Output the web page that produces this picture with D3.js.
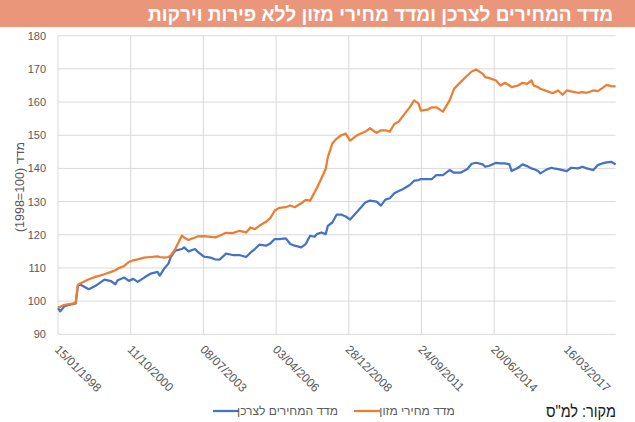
<!DOCTYPE html>
<html>
<head>
<meta charset="utf-8">
<script src="https://cdn.jsdelivr.net/npm/d3@7"></script>
<style>
  body { margin: 0; background: #fff; }
  svg { display: block; font-family: "Liberation Sans", Arial, sans-serif; }
</style>
</head>
<body>
<div id="chart"></div>
<script>
// Monthly samples (YYYY-MM)
const months = [
  "1998-01","1998-02","1998-04","1998-07","1998-09","1998-10","1998-11","1999-03","1999-06","1999-10",
  "2000-01","2000-03","2000-04","2000-07","2000-09","2000-11","2001-01","2001-04","2001-07","2001-10",
  "2001-11","2002-01","2002-03","2002-04","2002-06","2002-09","2002-10","2002-12","2003-03","2003-04",
  "2003-07","2003-10","2003-12","2004-02","2004-05","2004-08","2004-11","2005-02","2005-04","2005-06",
  "2005-08","2005-11","2006-01","2006-03","2006-05","2006-08","2006-10","2006-12","2007-03","2007-05",
  "2007-07","2007-09","2007-10","2007-12","2008-02","2008-03","2008-05","2008-07","2008-09","2008-11",
  "2009-01","2009-04","2009-08","2009-10","2010-01","2010-03","2010-05","2010-07","2010-09","2010-11",
  "2011-01","2011-04","2011-06","2011-08","2011-09","2011-12","2012-02","2012-04","2012-07","2012-10",
  "2012-12","2013-03","2013-06","2013-08","2013-10","2014-01","2014-02","2014-04","2014-07","2014-09",
  "2014-11","2015-01","2015-02","2015-05","2015-07","2015-09","2015-11","2015-12","2016-02","2016-03",
  "2016-06","2016-08","2016-09","2016-11","2017-01","2017-03","2017-05","2017-08","2017-10","2017-12",
  "2018-03","2018-05","2018-07","2018-09","2018-11","2019-01"
];

// מדד המחירים לצרכן
const cpi = [
  97.9, 96.9, 98.5, 99.0, 99.3, 104.7, 105.0, 103.6, 104.6, 106.5,
  106.0, 105.1, 106.3, 107.1, 106.1, 106.7, 105.8, 107.1, 108.3, 108.8,
  107.7, 109.8, 111.3, 113.3, 115.2, 115.7, 116.2, 115.0, 115.7, 115.0,
  113.4, 113.1, 112.6, 112.5, 114.3, 113.9, 113.9, 113.3, 114.6, 115.7,
  117.0, 116.7, 117.4, 118.7, 118.7, 118.9, 117.2, 116.7, 116.2, 117.2,
  119.7, 119.4, 120.2, 120.7, 120.2, 122.7, 123.7, 126.1, 126.1, 125.5,
  124.6, 126.8, 129.8, 130.3, 130.0, 128.8, 130.6, 131.0, 132.5, 133.2,
  133.8, 135.0, 136.3, 136.5, 136.8, 136.8, 136.8, 138.0, 138.0, 139.5,
  138.7, 138.7, 139.8, 141.4, 141.7, 141.2, 140.5, 140.8, 141.7, 141.5,
  141.5, 141.2, 139.2, 140.2, 141.2, 140.7, 140.0, 139.8, 139.2, 138.5,
  139.7, 140.2, 140.0, 139.8, 139.5, 139.2, 140.2, 140.0, 140.5, 140.0,
  139.5, 141.0, 141.5, 141.8, 142.0, 141.2
];

// מדד מחירי מזון
const food = [
  98.2, 98.3, 98.9, 99.2, 99.4, 104.9, 105.3, 106.6, 107.3, 108.1,
  108.8, 109.3, 109.8, 110.6, 111.8, 112.3, 112.6, 113.1, 113.3, 113.5,
  113.3, 113.1, 113.3, 113.8, 115.7, 119.7, 119.2, 118.4, 119.2, 119.5,
  119.6, 119.4, 119.2, 119.7, 120.6, 120.5, 121.2, 120.7, 122.2, 121.7,
  122.7, 123.9, 125.1, 127.3, 128.1, 128.3, 128.8, 128.3, 129.5, 130.5,
  130.3, 132.8, 134.1, 136.9, 139.9, 143.4, 147.5, 149.0, 150.0, 150.5,
  148.4, 149.9, 151.1, 152.1, 150.7, 151.5, 151.5, 151.1, 153.4, 154.1,
  155.9, 158.4, 160.5, 159.5, 157.4, 157.7, 158.4, 158.4, 157.1, 160.5,
  164.0, 166.0, 168.0, 169.2, 169.8, 168.5, 167.5, 167.2, 166.5, 165.0,
  165.8, 165.0, 164.5, 165.0, 165.8, 165.5, 166.5, 165.0, 164.5, 164.0,
  163.3, 162.8, 162.8, 163.5, 162.2, 163.5, 163.2, 162.8, 163.0, 162.8,
  163.5, 163.3, 164.2, 165.2, 164.8, 164.7
];

const yTicks = [90, 100, 110, 120, 130, 140, 150, 160, 170, 180];
const seriesNames = ["מדד המחירים לצרכן", "מדד מחירי מזון"];
const seriesColors = ["#4472C4", "#ED7D31"];

const width = 635, height = 422;
const margin = { left: 58, right: 19.4, top: 35.7, bottom: 87.7 };

const parseMonth = d3.utcParse("%Y-%m");
const dates = months.map(m => d3.utcDay.offset(parseMonth(m), 14));

const svg = d3.select("#chart").append("svg")
    .attr("width", width)
    .attr("height", height);

// title bar
svg.append("rect")
    .attr("x", 0).attr("y", 0)
    .attr("width", width).attr("height", 27)
    .attr("fill", "#E9967B");

svg.append("text")
    .attr("x", 380.5).attr("y", 20.5)
    .attr("text-anchor", "middle")
    .attr("fill", "#fff")
    .attr("font-size", 20)
    .attr("font-weight", "bold")
    .attr("textLength", 465)
    .attr("lengthAdjust", "spacingAndGlyphs")
    .text("מדד המחירים לצרכן ומדד מחירי מזון ללא פירות וירקות");

const x = d3.scaleUtc()
    .domain([Date.UTC(1998, 0, 15), Date.UTC(2019, 0, 15)])
    .range([margin.left, width - margin.right]);

const y = d3.scaleLinear()
    .domain([90, 180])
    .range([height - margin.bottom, margin.top]);

// Excel-like date ticks every 1000 days
const xTicks = d3.range(0, 8).map(i => d3.utcDay.offset(new Date(Date.UTC(1998, 0, 15)), i * 1000));
const fmt = d3.utcFormat("%d/%m/%Y");

// gridlines
svg.append("g")
    .selectAll("line")
    .data(yTicks)
    .join("line")
    .attr("x1", margin.left).attr("x2", width - margin.right)
    .attr("y1", d => y(d)).attr("y2", d => y(d))
    .attr("stroke", "#D9D9D9").attr("stroke-width", 1);

svg.append("g")
    .selectAll("line")
    .data(xTicks)
    .join("line")
    .attr("x1", d => x(d)).attr("x2", d => x(d))
    .attr("y1", margin.top).attr("y2", height - margin.bottom)
    .attr("stroke", "#D9D9D9").attr("stroke-width", 1);

// y axis labels
svg.append("g")
    .selectAll("text")
    .data(yTicks)
    .join("text")
    .attr("x", 46)
    .attr("y", d => y(d) + 4)
    .attr("text-anchor", "end")
    .attr("fill", "#595959")
    .attr("font-size", 11)
    .text(d => d);

// x axis labels, rotated 45deg
svg.append("g")
    .selectAll("text")
    .data(xTicks)
    .join("text")
    .attr("transform", d => `translate(${x(d) - 4},${height - margin.bottom + 16}) rotate(45)`)
    .attr("text-anchor", "start")
    .attr("fill", "#595959")
    .attr("font-size", 12)
    .text(d => fmt(d));

// y axis title (written in visual order so the numbers stay put)
svg.append("text")
    .attr("transform", `translate(24,${(margin.top + height - margin.bottom) / 2 + 2}) rotate(-90)`)
    .attr("text-anchor", "middle")
    .attr("fill", "#595959")
    .attr("font-size", 12.5)
    .text("(1998=100) מדד");

// lines
const line = d3.line()
    .x((d, i) => x(dates[i]))
    .y(d => y(d));

[cpi, food].forEach((vals, k) => {
    svg.append("path")
        .datum(vals)
        .attr("fill", "none")
        .attr("stroke", seriesColors[k])
        .attr("stroke-width", 2.25)
        .attr("stroke-linejoin", "round")
        .attr("d", line);
});

// legend
const legend = [
    { sx: 213, tx: 287.5 },
    { sx: 354, tx: 417 }
];
legend.forEach((p, k) => {
    svg.append("line")
        .attr("x1", p.sx).attr("x2", p.sx + 26)
        .attr("y1", 411).attr("y2", 411)
        .attr("stroke", seriesColors[k])
        .attr("stroke-width", 2.25);
    svg.append("text")
        .attr("x", p.tx).attr("y", 415)
        .attr("text-anchor", "middle")
        .attr("fill", "#595959")
        .attr("font-size", 12)
        .text(seriesNames[k]);
});

// source
svg.append("text")
    .attr("x", 581).attr("y", 417)
    .attr("text-anchor", "middle")
    .attr("direction", "rtl")
    .attr("fill", "#1a1a1a")
    .attr("font-size", 17)
    .attr("textLength", 70)
    .attr("lengthAdjust", "spacingAndGlyphs")
    .text("מקור: למ\"ס");
</script>
</body>
</html>
